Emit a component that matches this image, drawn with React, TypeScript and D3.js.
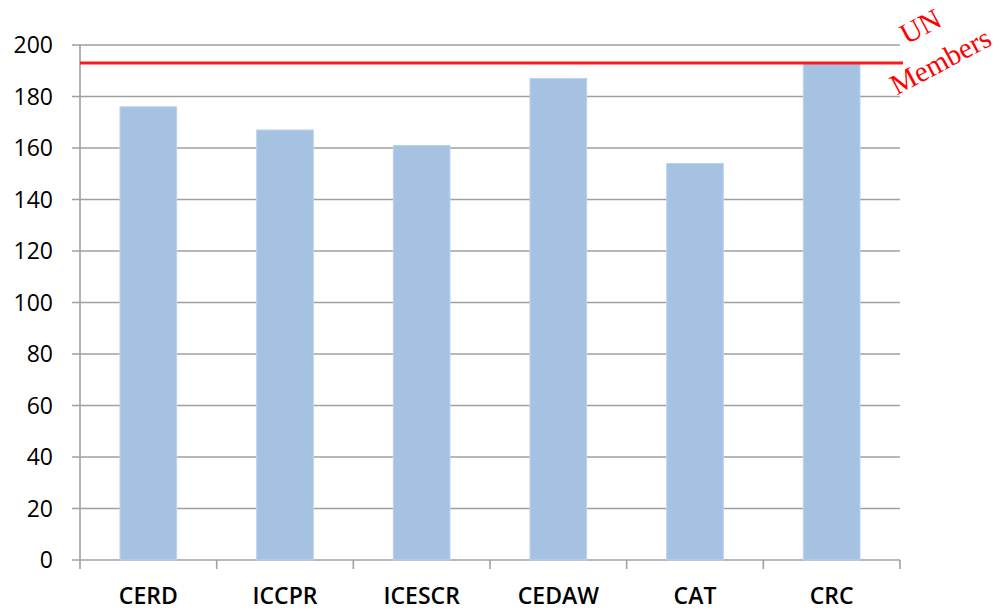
import React from "react";
import * as d3 from "d3";

const categories = ["CERD", "ICCPR", "ICESCR", "CEDAW", "CAT", "CRC"];
const ratifications = [176, 167, 161, 187, 154, 193];
const unMembers = 193;
const yTicks = [0, 20, 40, 60, 80, 100, 120, 140, 160, 180, 200];

const W = 1003;
const H = 611;
const M = { left: 80, right: 103, top: 45, bottom: 51 };

export default function App() {
  const x = d3
    .scaleBand<string>()
    .domain(categories)
    .range([M.left, W - M.right])
    .paddingInner(0.585)
    .paddingOuter(0.2925);
  const xOuter = d3.scaleBand<string>().domain(categories).range([M.left, W - M.right]);
  const y = d3.scaleLinear().domain([0, 200]).range([H - M.bottom, M.top]);
  const grid = "#a0a0a0";
  const font = "'Open Sans', sans-serif";

  return (
    <svg
      width={W}
      height={H}
      style={{ position: "absolute", left: 0, top: 0, background: "#fff" }}
    >
      <defs>
        <filter id="glow" x="-5%" y="-200%" width="110%" height="500%">
          <feGaussianBlur stdDeviation="1.5" />
        </filter>
      </defs>
      {yTicks.map((t) => (
        <g key={t}>
          <line
            x1={M.left - 8}
            x2={W - M.right}
            y1={y(t)}
            y2={y(t)}
            stroke={grid}
            strokeWidth={1.6}
          />
          <text
            x={53}
            y={y(t)}
            dy="0.36em"
            textAnchor="end"
            fontFamily={font}
            fontSize={23}
            fill="#000"
          >
            {t}
          </text>
        </g>
      ))}
      <line x1={M.left} x2={M.left} y1={M.top} y2={y(0) + 9} stroke={grid} strokeWidth={1.6} />
      {categories.map((c) => (
        <line
          key={"t" + c}
          x1={(xOuter(c) as number) + xOuter.bandwidth()}
          x2={(xOuter(c) as number) + xOuter.bandwidth()}
          y1={y(0)}
          y2={y(0) + 9}
          stroke={grid}
          strokeWidth={1.6}
        />
      ))}
      {categories.map((c, i) => (
        <rect
          key={c}
          x={x(c)}
          y={y(ratifications[i])}
          width={x.bandwidth()}
          height={y(0) - y(ratifications[i])}
          fill="#a6c2e2"
          stroke="#bcd3ee"
          strokeWidth={1}
        />
      ))}
      {categories.map((c) => (
        <text
          key={"l" + c}
          x={(x(c) as number) + x.bandwidth() / 2}
          y={604}
          textAnchor="middle"
          fontFamily={font}
          fontSize={23}
          fontWeight={600}
          fill="#000"
        >
          {c}
        </text>
      ))}
      <line
        x1={M.left}
        x2={W - M.right + 3}
        y1={y(unMembers)}
        y2={y(unMembers)}
        stroke="#ff6060"
        strokeWidth={7}
        opacity={0.45}
        filter="url(#glow)"
      />
      <line
        x1={M.left}
        x2={W - M.right + 3}
        y1={y(unMembers)}
        y2={y(unMembers)}
        stroke="#ff1a1a"
        strokeWidth={3}
      />
      <g fontFamily="'Liberation Serif', serif" fill="#ff0000" fontSize={29}>
        <text
          x={922}
          y={29}
          textAnchor="middle"
          dominantBaseline="middle"
          transform="rotate(-28 922 29)"
        >
          UN
        </text>
        <text
          x={942}
          y={64}
          textAnchor="middle"
          dominantBaseline="middle"
          transform="rotate(-28 942 64)"
        >
          Members
        </text>
      </g>
    </svg>
  );
}
